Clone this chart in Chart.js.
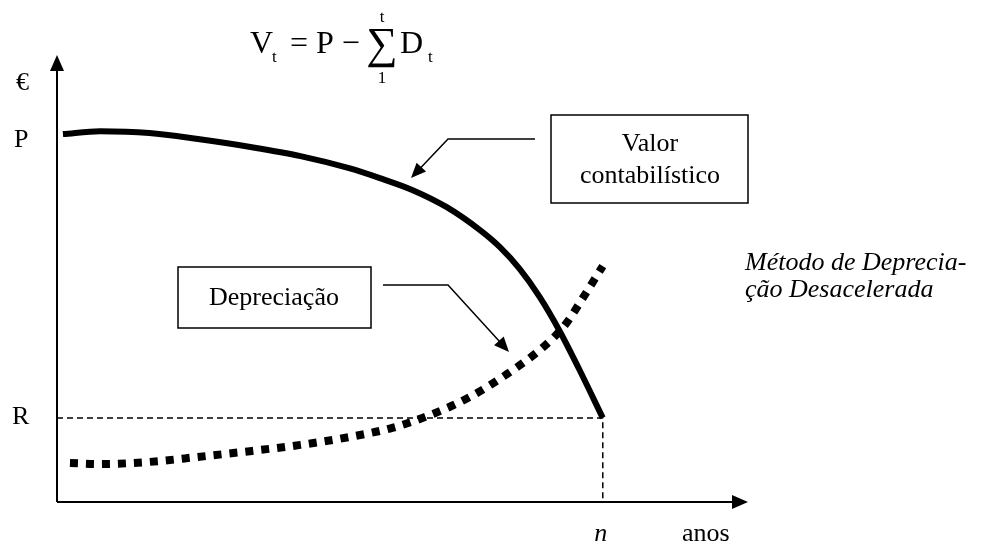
<!DOCTYPE html>
<html>
<head>
<meta charset="utf-8">
<script src="https://cdn.jsdelivr.net/npm/chart.js@4"></script>
<style>
  html, body { margin: 0; padding: 0; background: #fff; }
  canvas { display: block; }
</style>
</head>
<body>
<canvas id="myChart" width="984" height="544"></canvas>
<script>
// anos (n = 10) e valores (P = 100, R = 20)
const nYears = 10;
const valueP = 100;
const valueR = 20;
const xMin = -0.11, xMax = 12.69;
const yMin = -3.7, yMax = 122.3;

// Valor contabilístico
const valorX = [0, 0.69, 1.6, 2.5, 3.5, 4.4, 5.3, 5.87, 6.48, 7.11, 7.72, 8.09, 8.46, 8.83, 9.2, 9.57, 10];
const valorY = [100, 100.8, 100.3, 98.6, 96.3, 93.8, 90.4, 87.6, 84.2, 79.4, 73.0, 68.2, 62.0, 54.1, 44.5, 33.5, 20];

// Depreciação
const deprX = [0.13, 0.7, 1.6, 2.5, 3.5, 4.4, 5.3, 6.1, 6.8, 7.5, 8.2, 8.9, 9.3, 9.63, 10];
const deprY = [7.3, 7.0, 7.6, 9.0, 10.7, 12.4, 14.6, 17.2, 20.8, 25.6, 32.1, 40.0, 46.2, 53.8, 62.8];

const serif = '"Liberation Serif", "Times New Roman", serif';

function toPoints(xs, ys) {
    return xs.map((x, i) => ({ x: x, y: ys[i] }));
}

function arrowHead(ctx, x0, y0, x1, y1, len, wid) {
    const a = Math.atan2(y1 - y0, x1 - x0);
    ctx.beginPath();
    ctx.moveTo(x1, y1);
    ctx.lineTo(x1 - len * Math.cos(a) + wid / 2 * Math.sin(a), y1 - len * Math.sin(a) - wid / 2 * Math.cos(a));
    ctx.lineTo(x1 - len * Math.cos(a) - wid / 2 * Math.sin(a), y1 - len * Math.sin(a) + wid / 2 * Math.cos(a));
    ctx.closePath();
    ctx.fill();
}

// linha com seta na ponta
function pointer(ctx, pts) {
    ctx.save();
    ctx.lineWidth = 1.5;
    ctx.strokeStyle = '#000';
    ctx.fillStyle = '#000';
    const last = pts[pts.length - 1], prev = pts[pts.length - 2];
    const a = Math.atan2(last[1] - prev[1], last[0] - prev[0]);
    ctx.beginPath();
    ctx.moveTo(pts[0][0], pts[0][1]);
    for (let i = 1; i < pts.length - 1; i++) ctx.lineTo(pts[i][0], pts[i][1]);
    ctx.lineTo(last[0] - 10 * Math.cos(a), last[1] - 10 * Math.sin(a));
    ctx.stroke();
    arrowHead(ctx, prev[0], prev[1], last[0], last[1], 15, 13);
    ctx.restore();
}

const overlay = {
    id: 'overlay',
    afterDraw(chart) {
        const ctx = chart.ctx;
        const xs = chart.scales.x, ys = chart.scales.y;
        const left = chart.chartArea.left, right = chart.chartArea.right;
        const top = chart.chartArea.top, bottom = chart.chartArea.bottom;

        ctx.save();
        ctx.strokeStyle = '#000';
        ctx.fillStyle = '#000';
        ctx.lineWidth = 2;

        // eixos com setas
        ctx.beginPath();
        ctx.moveTo(left, bottom);
        ctx.lineTo(left, top + 12);
        ctx.moveTo(left, bottom);
        ctx.lineTo(right - 12, bottom);
        ctx.stroke();
        arrowHead(ctx, left, bottom, left, top, 16, 14);
        arrowHead(ctx, left, bottom, right, bottom, 16, 14);

        // rótulos dos eixos
        ctx.font = '26px ' + serif;
        ctx.textBaseline = 'middle';
        ctx.textAlign = 'left';
        ctx.fillText('€', 16, 83);
        ctx.fillText('P', 14, ys.getPixelForValue(valueP) + 6);
        ctx.fillText('R', 12, ys.getPixelForValue(valueR) - 1);

        ctx.textBaseline = 'alphabetic';
        ctx.textAlign = 'center';
        ctx.font = 'italic 26px ' + serif;
        ctx.fillText('n', xs.getPixelForValue(nYears) - 2, 541);
        ctx.font = '26px ' + serif;
        ctx.textAlign = 'left';
        ctx.fillText('anos', 682, 541);

        // fórmula
        ctx.font = '32px ' + serif;
        ctx.fillText('V', 250, 53);
        ctx.fillText('= P \u2212', 290, 53);
        ctx.fillText('D', 400, 53);
        ctx.font = '17px ' + serif;
        ctx.fillText('t', 272, 62);
        ctx.fillText('t', 428, 62);
        ctx.textAlign = 'center';
        ctx.fillText('t', 382, 22);
        ctx.fillText('1', 382, 83);
        ctx.font = '44px ' + serif;
        ctx.textBaseline = 'middle';
        ctx.fillText('\u2211', 382, 46);

        // caixa "Valor contabilístico"
        ctx.lineWidth = 1.5;
        ctx.strokeRect(551, 115, 197, 88);
        ctx.font = '26px ' + serif;
        ctx.textBaseline = 'alphabetic';
        ctx.fillText('Valor', 650, 151);
        ctx.fillText('contabilístico', 650, 183);
        pointer(ctx, [[535, 139], [448, 139], [411, 178]]);

        // caixa "Depreciação"
        ctx.strokeRect(178, 267, 193, 61);
        ctx.fillText('Depreciação', 274, 305);
        pointer(ctx, [[383, 285], [448, 285], [509, 352]]);

        // título do método
        ctx.font = 'italic 26px ' + serif;
        ctx.textAlign = 'left';
        ctx.fillText('Método de Deprecia-', 745, 270);
        ctx.fillText('ção Desacelerada', 745, 297);
        ctx.restore();
    }
};

const ctx = document.getElementById('myChart').getContext('2d');
const myChart = new Chart(ctx, {
    type: 'line',
    data: {
        datasets: [
            {
                label: 'Valor contabilístico',
                data: toPoints(valorX, valorY),
                borderColor: '#000',
                borderWidth: 6,
                cubicInterpolationMode: 'monotone',
                pointRadius: 0,
                fill: false
            },
            {
                label: 'Depreciação',
                data: toPoints(deprX, deprY),
                borderColor: '#000',
                borderWidth: 8,
                borderDash: [8, 8],
                borderCapStyle: 'butt',
                cubicInterpolationMode: 'monotone',
                pointRadius: 0,
                fill: false
            },
            {
                label: 'guias',
                data: [{ x: xMin, y: valueR }, { x: nYears, y: valueR }, { x: nYears, y: yMin }],
                borderColor: '#000',
                borderWidth: 1.5,
                borderDash: [6, 4],
                tension: 0,
                pointRadius: 0,
                fill: false
            }
        ]
    },
    options: {
        responsive: false,
        animation: false,
        layout: { padding: { left: 57, right: 236, top: 55, bottom: 42 } },
        plugins: { legend: { display: false }, tooltip: { enabled: false } },
        scales: {
            x: { type: 'linear', min: xMin, max: xMax, display: false },
            y: { type: 'linear', min: yMin, max: yMax, display: false }
        }
    },
    plugins: [overlay]
});
</script>
</body>
</html>
